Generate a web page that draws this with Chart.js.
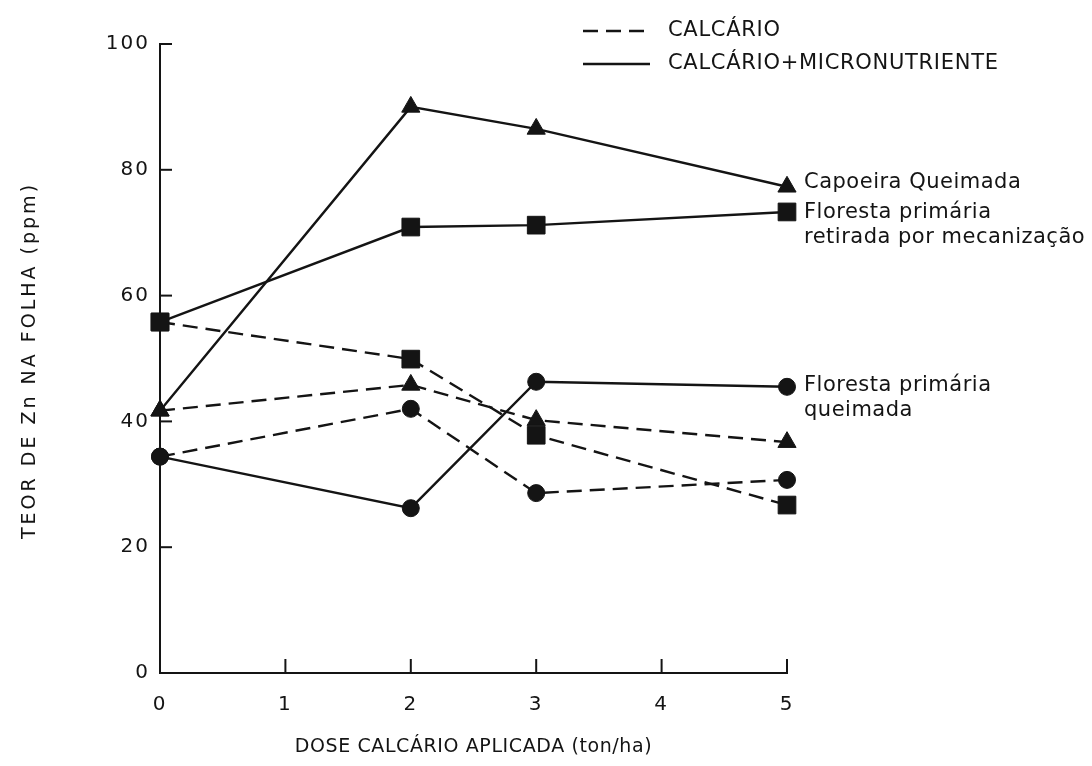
<!DOCTYPE html>
<html>
<head>
<meta charset="utf-8">
<script src="https://cdn.jsdelivr.net/npm/chart.js@4.4.0/dist/chart.umd.min.js"></script>
<style>
  html, body { margin: 0; padding: 0; background: #fff; }
  #wrap { width: 1092px; height: 766px; }
</style>
</head>
<body>
<div id="wrap"><canvas id="zincChart"></canvas></div>
<script>
var doses = [0, 2, 3, 5];
var xTicks = [0, 1, 2, 3, 4, 5];
var yTicks = [0, 20, 40, 60, 80, 100];

// calcário + micronutriente (linha cheia)
var capoeiraMicro = [41.7, 90.0, 86.5, 77.3];
var mecanizacaoMicro = [55.8, 70.9, 71.2, 73.3];
var queimadaMicro = [34.4, 26.2, 46.3, 45.5];

// só calcário (tracejada)
var capoeiraCalc = [41.7, 45.8, 40.2, 36.7];
var mecanizacaoCalc = [55.8, 49.9, 37.8, 26.7];
var queimadaCalc = [34.4, 42.0, 28.6, 30.7];

var legendLabels = ["CALCÁRIO", "CALCÁRIO+MICRONUTRIENTE"];
var capoeiraLabel = ["Capoeira Queimada"];
var mecanizacaoLabel = ["Floresta primária", "retirada por mecanização"];
var queimadaLabel = ["Floresta primária", "queimada"];
var xTitle = "DOSE CALCÁRIO APLICADA (ton/ha)";
var yTitle = "TEOR DE Zn NA FOLHA (ppm)";

var ink = "#141414";
var dash = [15, 8];
var fontName = "'DejaVu Sans', sans-serif";

function pts(arr) {
    return doses.map(function (d, i) { return { x: d, y: arr[i] }; });
}

function serie(arr, shape, radius, dashed) {
    return {
        data: pts(arr),
        borderColor: ink,
        borderWidth: 2.4,
        borderDash: dashed ? dash : [],
        pointStyle: shape,
        pointRadius: radius,
        pointBackgroundColor: ink,
        pointBorderColor: ink,
        pointBorderWidth: 1,
        fill: false,
        tension: 0,
        clip: false
    };
}

var decor = {
    id: 'decor',
    beforeDraw: function (chart) {
        // números dos eixos com letras espaçadas, como no original
        chart.ctx.letterSpacing = '2px';
    },
    afterDraw: function (chart) {
        var ctx = chart.ctx;
        var xs = chart.scales.x, ys = chart.scales.y;
        var left = chart.chartArea.left, bottom = chart.chartArea.bottom;
        ctx.save();
        ctx.strokeStyle = ink;
        ctx.lineWidth = 2;
        ctx.setLineDash([]);
        // ticks voltados para dentro
        yTicks.forEach(function (v) {
            if (v === 0) return;
            var y = ys.getPixelForValue(v);
            ctx.beginPath(); ctx.moveTo(left, y); ctx.lineTo(left + 12, y); ctx.stroke();
        });
        xTicks.forEach(function (v) {
            if (v === 0) return;
            var x = xs.getPixelForValue(v);
            ctx.beginPath(); ctx.moveTo(x, bottom); ctx.lineTo(x, bottom - 14); ctx.stroke();
        });

        ctx.fillStyle = ink;
        ctx.textBaseline = "middle";

        // título do eixo x
        ctx.letterSpacing = '0.6px';
        ctx.font = "19px " + fontName;
        ctx.textAlign = "center";
        ctx.fillText(xTitle, (xs.left + xs.right) / 2, 747);

        // título do eixo y
        ctx.save();
        ctx.translate(30, (ys.top + ys.bottom) / 2 + 2);
        ctx.rotate(-Math.PI / 2);
        ctx.letterSpacing = '3px';
        ctx.font = "19px " + fontName;
        ctx.fillText(yTitle, 0, 0);
        ctx.restore();

        // legenda
        ctx.lineWidth = 2.4;
        ctx.setLineDash(dash);
        ctx.beginPath(); ctx.moveTo(583, 31); ctx.lineTo(650, 31); ctx.stroke();
        ctx.setLineDash([]);
        ctx.beginPath(); ctx.moveTo(583, 64); ctx.lineTo(650, 64); ctx.stroke();
        ctx.letterSpacing = '0.7px';
        ctx.font = "21px " + fontName;
        ctx.textAlign = "left";
        ctx.fillText(legendLabels[0], 668, 31);
        ctx.fillText(legendLabels[1], 668, 64);

        // rótulos das áreas
        ctx.letterSpacing = '0.5px';
        var lx = xs.getPixelForValue(doses[doses.length - 1]) + 17;
        function label(lines, yv, dy) {
            var y = ys.getPixelForValue(yv) + dy;
            lines.forEach(function (t, i) { ctx.fillText(t, lx, y + i * 25); });
        }
        label(capoeiraLabel, capoeiraMicro[3], -4);
        label(mecanizacaoLabel, mecanizacaoMicro[3], 1);
        label(queimadaLabel, queimadaMicro[3], -1);
        ctx.restore();
    }
};

var ctxZ = document.getElementById("zincChart").getContext('2d');
var zincChart = new Chart(ctxZ, {
    type: 'line',
    data: {
        datasets: [
            serie(capoeiraMicro, 'triangle', 10.5, false),
            serie(mecanizacaoMicro, 'rect', 12.5, false),
            serie(queimadaMicro, 'circle', 8.5, false),
            serie(capoeiraCalc, 'triangle', 10.5, true),
            serie(mecanizacaoCalc, 'rect', 12.5, true),
            serie(queimadaCalc, 'circle', 8.5, true)
        ]
    },
    options: {
        responsive: true,
        maintainAspectRatio: false,
        animation: false,
        layout: { padding: { top: 44, right: 305, left: 0, bottom: 0 } },
        plugins: { legend: { display: false }, tooltip: { enabled: false } },
        scales: {
            x: {
                type: 'linear',
                min: 0,
                max: 5,
                afterFit: function (s) { s.height = 93; },
                afterBuildTicks: function (s) { s.ticks = xTicks.map(function (v) { return { value: v }; }); },
                grid: { display: false, drawTicks: false },
                border: { display: true, color: ink, width: 2 },
                ticks: { color: ink, padding: 20, font: { family: fontName, size: 20 } },
                title: { display: false }
            },
            y: {
                min: 0,
                max: 100,
                afterFit: function (s) { s.width = 160; },
                afterBuildTicks: function (s) { s.ticks = yTicks.map(function (v) { return { value: v }; }); },
                grid: { display: false, drawTicks: false },
                border: { display: true, color: ink, width: 2 },
                ticks: { color: ink, padding: 10, font: { family: fontName, size: 20 } },
                title: { display: false }
            }
        }
    },
    plugins: [decor]
});
</script>
</body>
</html>
